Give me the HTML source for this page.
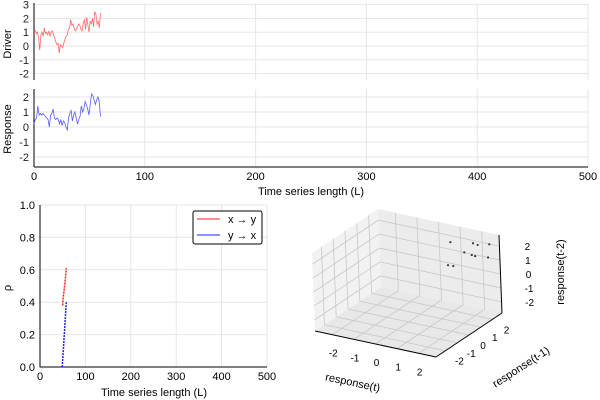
<!DOCTYPE html>
<html><head><meta charset="utf-8"><style>
body{margin:0;background:#fff;}
svg{display:block;font-family:"Liberation Sans","DejaVu Sans",sans-serif;}
</style></head><body>
<svg id="c" width="600" height="400" xmlns="http://www.w3.org/2000/svg"></svg>
<script>
const driver=[1,1.1,0.9,1,0.6,-0.3,0.8,1,0.7,1.3,0.9,1,0.8,1.1,0.7,1,1.1,0.8,0.6,0.3,0.1,0.2,-0.5,0.1,0,-0.1,0.2,0.5,0.7,0.8,1.2,1.3,1.9,1.5,1.6,1.3,1.1,1.2,1.4,1.6,1.5,1.2,1.1,1.7,1.9,1.2,2.1,1.5,1.0,1.8,1.6,2.0,1.4,2.5,2.3,1.6,1.8,1.3,2.4];
const response=[0.2,0.5,0.6,1.4,0.8,0.9,0.8,0.9,0.8,0.7,0.6,0.5,0.0,0.8,0.9,1.2,0.6,0.5,0.6,0.5,0.2,0.5,0.1,0.4,0.3,0.0,-0.2,0.6,0.9,1.1,0.4,0.8,1.0,0.6,0.2,0.5,0.7,1.4,1.0,1.2,1.7,1.5,1.2,0.8,1.5,2.2,2.1,1.8,1.5,1.8,2.0,1.7,0.7];
const seriesLen=60;
const xTicks=[0,100,200,300,400,500];
const driverTicks=[3,2,1,0,-1,-2];
const respTicks=[2,1,0,-1,-2];
const rhoL_xy=[50,51,52,53,54,55,56,57,58];
const rho_xy=[0.38,0.43,0.45,0.47,0.5,0.52,0.55,0.58,0.61];
const rhoL_yx=[49,50,51,52,53,54,55,56,57,58];
const rho_yx=[0.0,0.05,0.09,0.13,0.18,0.22,0.27,0.31,0.36,0.4];
const rhoTicks=[0,0.2,0.4,0.6,0.8,1.0];
const pts3d=[[0.8,2.3,1.9],[1.8,2.4,2.1],[2.5,2.5,2.2],[1.6,2.0,1.6],[2.0,1.9,1.6],[2.1,2.0,1.5],[1.4,1.4,0.9],[1.1,1.5,0.8],[2.7,2.0,1.6],[1.9,2.6,1.9]];
const ticks3d=[-2,-1,0,1,2];

const S=document.getElementById('c');const NS='http://www.w3.org/2000/svg';
function el(t,a,txt){const e=document.createElementNS(NS,t);for(const k in a)e.setAttribute(k,a[k]);if(txt!==undefined)e.textContent=txt;S.appendChild(e);return e;}
const tx=v=>34+v*(554/500);
const dy=v=>46-v*13.8;
const ry=v=>127-v*15;
function panel(name,ticks,yf,top,bot,data,color,label,labY){
  xTicks.forEach(t=>{const g=el('line',{x1:tx(t),x2:tx(t),y1:top,y2:bot,stroke:'#e6e6e6','stroke-width':1});});
  ticks.forEach(t=>{const g=el('line',{x1:34,x2:588,y1:yf(t),y2:yf(t),stroke:'#e6e6e6'});
   const l=el('text',{x:29,y:yf(t)+4,'text-anchor':'end','font-size':11,fill:'#222'},t);});
  const ax=el('line',{x1:34,x2:34,y1:top,y2:bot,stroke:'#000'});
  const p=data.map((v,i)=>tx(i*seriesLen/(data.length-1))+','+yf(v)).join(' ');
  const pl=el('polyline',{points:p,fill:'none',stroke:color,'stroke-width':0.8});
  const t=el('text',{x:11,y:labY,'font-size':11,'text-anchor':'middle',transform:`rotate(-90 11 ${labY})`},label);
}
panel('driver',driverTicks,dy,3,80,driver,'#ff6a6a','Driver',44);
panel('response',respTicks,ry,89,167,response,'#5a5aff','Response',129);
let a=el('line',{x1:34,x2:588,y1:167,y2:167,stroke:'#000'});
xTicks.forEach(t=>{const l=el('text',{x:tx(t),y:180,'text-anchor':'middle','font-size':11},t);});
a=el('text',{x:311,y:195,'text-anchor':'middle','font-size':11},'Time series length (L)');
const bx=v=>40+v*(227/500);
const by=v=>367-v*162;
xTicks.forEach(t=>{const g=el('line',{x1:bx(t),x2:bx(t),y1:205,y2:367,stroke:'#e6e6e6'});
 const l=el('text',{x:bx(t),y:380,'text-anchor':'middle','font-size':11},t);});
rhoTicks.forEach(t=>{const g=el('line',{x1:40,x2:267,y1:by(t),y2:by(t),stroke:'#e6e6e6'});
 const l=el('text',{x:35,y:by(t)+4,'text-anchor':'end','font-size':11},t.toFixed(1));});
a=el('path',{d:'M40 205V367H267',fill:'none',stroke:'#000'});
function rhoLine(L,R,c,n){const p=L.map((v,i)=>bx(v)+','+by(R[i])).join(' ');const e=el('polyline',{points:p,fill:'none',stroke:c,'stroke-width':1.5,'stroke-dasharray':'2,1'});}
rhoLine(rhoL_xy,rho_xy,'#ff2020','rho-x-to-y');
rhoLine(rhoL_yx,rho_yx,'#2020ff','rho-y-to-x');
a=el('text',{x:11,y:288,'font-size':11,'text-anchor':'middle',transform:'rotate(-90 11 288)'},'ρ');
a=el('text',{x:154,y:396,'text-anchor':'middle','font-size':11},'Time series length (L)');
a=el('rect',{x:193,y:211,width:69,height:33,rx:2,fill:'#fff',stroke:'#000'});
a=el('line',{x1:197,x2:220,y1:219,y2:219,stroke:'#ff2020'});
a=el('text',{x:228,y:223,'font-size':11},'x → y');
a=el('line',{x1:197,x2:220,y1:235,y2:235,stroke:'#2020ff'});
a=el('text',{x:228,y:239,'font-size':11},'y → x');
const R0=-2.8,R1=2.8;
function P(x,y,z){const u=(x-R0)/(R1-R0),v=(y-R0)/(R1-R0),w=(z-R0)/(R1-R0);return[315+u*121+v*66-w*3,331+u*26-v*44-w*78];}
function poly(pts,fill,n){a=el('polygon',{points:pts.map(p=>p.join(',')).join(' '),fill:fill,stroke:'none'});}
poly([P(R0,R0,R0),P(R0,R0,R1),P(R0,R1,R1),P(R0,R1,R0)],'#f2f2f2','pane-left');
poly([P(R0,R1,R0),P(R0,R1,R1),P(R1,R1,R1),P(R1,R1,R0)],'#ececec','pane-back');
poly([P(R0,R0,R0),P(R1,R0,R0),P(R1,R1,R0),P(R0,R1,R0)],'#e8e8e8','pane-floor');
function ln(p,q,c,n,w){a=el('line',{x1:p[0],y1:p[1],x2:q[0],y2:q[1],stroke:c,'stroke-width':w||0.8});}
ticks3d.forEach(t=>{
 ln(P(t,R0,R0),P(t,R1,R0),'#c8c8c8','grid3d');ln(P(t,R1,R0),P(t,R1,R1),'#c8c8c8','grid3d');
 ln(P(R0,t,R0),P(R1,t,R0),'#c8c8c8','grid3d');ln(P(R0,t,R0),P(R0,t,R1),'#c8c8c8','grid3d');
 ln(P(R0,R0,t),P(R0,R1,t),'#c8c8c8','grid3d');ln(P(R0,R1,t),P(R1,R1,t),'#c8c8c8','grid3d');
});
ln(P(R0,R0,R0),P(R1,R0,R0),'#000','x3d-axis',1);ln(P(R1,R0,R0),P(R1,R1,R0),'#000','y3d-axis',1);ln(P(R1,R1,R0),P(R1,R1,R1),'#000','z3d-axis',1);
ticks3d.forEach(t=>{
 let p=P(t,R0,R0);a=el('text',{x:p[0]+1,y:p[1]+22,'font-size':10,'text-anchor':'middle'},t);
 p=P(R1,t,R0);a=el('text',{x:p[0]+14,y:p[1]+14,'font-size':10,'text-anchor':'middle'},t);
 p=P(R1,R1,t);a=el('text',{x:p[0]+28,y:p[1]+4,'font-size':10,'text-anchor':'middle'},t);
});
pts3d.forEach(q=>{const p=P(q[0],q[1],q[2]);a=el('circle',{cx:p[0],cy:p[1],r:1.1,fill:'#333'});});
a=el('text',{x:352,y:386,'font-size':11,'text-anchor':'middle',transform:'rotate(12 352 386)'},'response(t)');
a=el('text',{x:523,y:370,'font-size':11,'text-anchor':'middle',transform:'rotate(-33 523 370)'},'response(t-1)');
a=el('text',{x:564,y:272,'font-size':11,'text-anchor':'middle',transform:'rotate(-90 564 272)'},'response(t-2)');
</script>
</body></html>
